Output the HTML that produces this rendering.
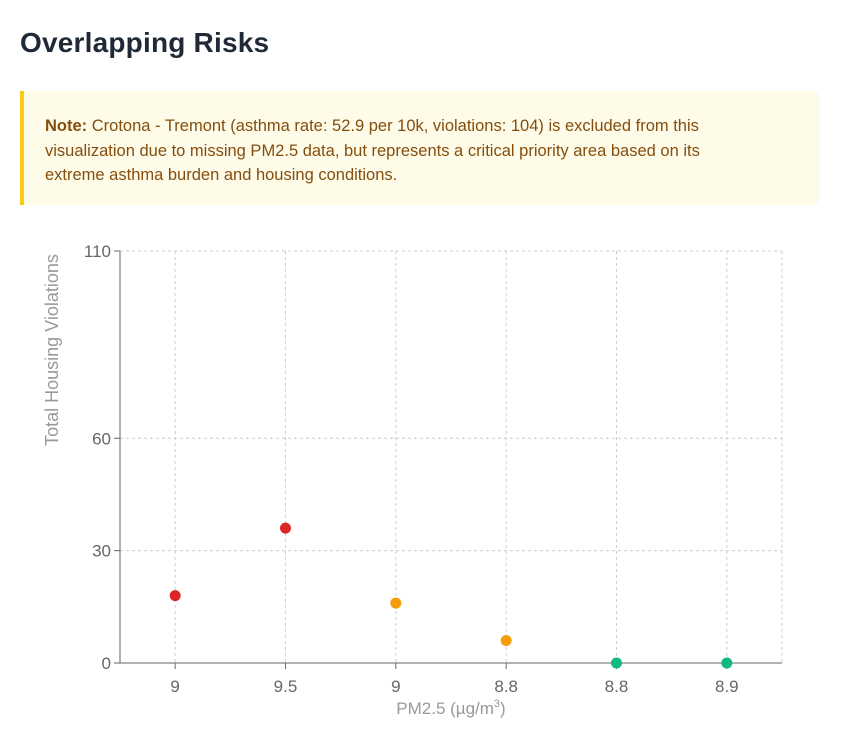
<!DOCTYPE html>
<html><head><meta charset="utf-8">
<style>
body{margin:0;background:#fff;width:858px;height:738px;overflow:hidden;font-family:"Liberation Sans",sans-serif;}
h2{position:absolute;left:20px;top:27px;margin:0;font-size:28px;font-weight:bold;color:#1f2937;letter-spacing:0.2px}
.note{position:absolute;left:20px;top:91px;width:800px;height:114px;padding:0 0 0 21px;box-sizing:border-box;background:#fefce8;border-left:4px solid #facc15;border-radius:0 8px 8px 0;color:#854d0e;font-size:16.5px;line-height:24.5px;}
.note div{width:705px;padding-top:23px}
svg{position:absolute;left:0;top:0}
</style></head><body>
<h2>Overlapping Risks</h2>
<div class="note"><div><b>Note:</b> Crotona - Tremont (asthma rate: 52.9 per 10k, violations: 104) is excluded from this visualization due to missing PM2.5 data, but represents a critical priority area based on its extreme asthma burden and housing conditions.</div></div>
<svg id="chart" width="858" height="738"></svg>
<script>
const categories=["9","9.5","9","8.8","8.8","8.9"];
const violations=[18,36,16,6,0,0];
const colors=["#dc2626","#dc2626","#f59e0b","#f59e0b","#10b981","#10b981"];
const yTicks=[0,30,60,110];
const svg=document.getElementById('chart');
const NS='http://www.w3.org/2000/svg';
const L=120,R=782,T=251,B=663,yMax=110;
const bw=(R-L)/categories.length;
const x=i=>L+bw*(i+0.5);
const y=v=>B-(v/yMax)*(B-T);
function mk(t,a,txt){const e=document.createElementNS(NS,t);for(const k in a)e.setAttribute(k,a[k]);if(txt!=null)e.textContent=txt;svg.appendChild(e);return e;}
yTicks.forEach(v=>{
 const g=mk('line',{x1:L,x2:R,y1:y(v),y2:y(v),stroke:'#ccc','stroke-dasharray':'3,3'});
 
 
 mk('line',{x1:L-6,x2:L,y1:y(v),y2:y(v),stroke:'#666'});
 const t=mk('text',{x:L-9,y:y(v)+6,'text-anchor':'end','font-size':17,fill:'#666','font-family':'Liberation Sans, sans-serif'},v);
 
 
});
categories.forEach((c,i)=>{
 const g=mk('line',{x1:x(i),x2:x(i),y1:T,y2:B,stroke:'#ccc','stroke-dasharray':'3,3'});
 
 
 mk('line',{x1:x(i),x2:x(i),y1:B,y2:B+6,stroke:'#666'});
 const t=mk('text',{x:x(i),y:B+29,'text-anchor':'middle','font-size':17,fill:'#666','font-family':'Liberation Sans, sans-serif'},c);
 
 
});
mk('line',{x1:R,x2:R,y1:T,y2:B,stroke:'#ccc','stroke-dasharray':'3,3'});
mk('line',{x1:L,x2:L,y1:T,y2:B,stroke:'#666'});
mk('line',{x1:L,x2:R,y1:B,y2:B,stroke:'#666'});
const xt=mk('text',{x:(L+R)/2,y:714,'text-anchor':'middle','font-size':17,fill:'#999','font-family':'Liberation Sans, sans-serif'});
xt.innerHTML='PM2.5 (µg/m<tspan dy="-7" font-size="11">3</tspan><tspan dy="7">)</tspan>';


const yt=mk('text',{x:0,y:0,transform:'translate(58,350) rotate(-90)','text-anchor':'middle','font-size':18,fill:'#999','font-family':'Liberation Sans, sans-serif'},'Total Housing Violations');


violations.forEach((v,i)=>{
 const c=mk('circle',{cx:x(i),cy:y(v),r:5.5,fill:colors[i]});
 
 
});
</script>
</body></html>
